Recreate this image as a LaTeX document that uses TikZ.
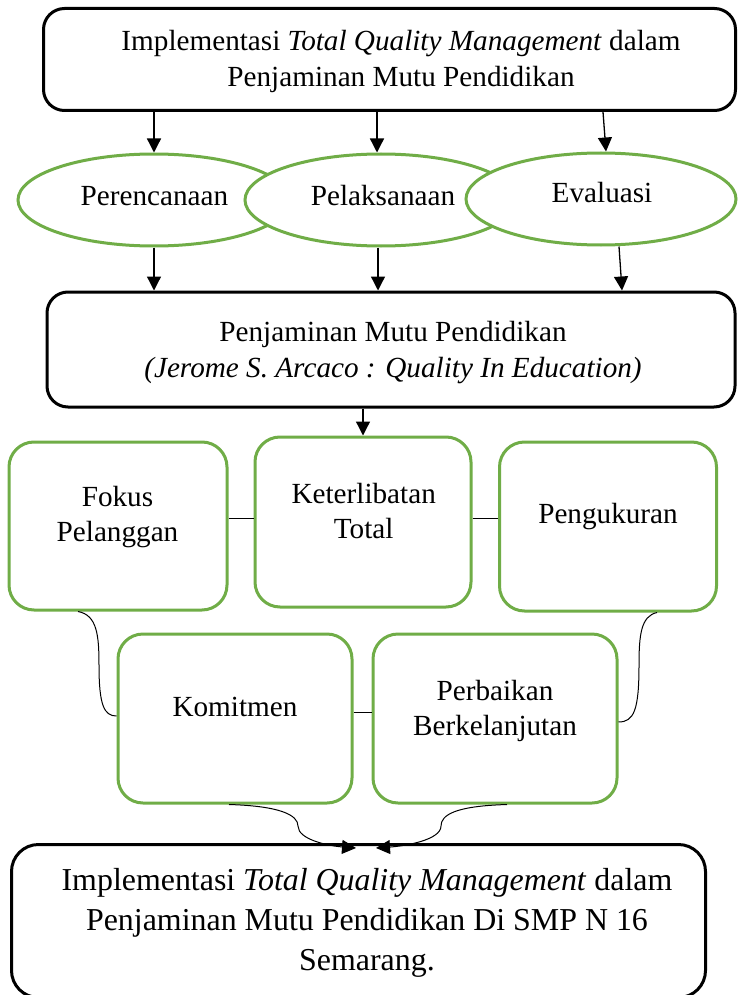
\documentclass[tikz,border=0pt]{standalone}
\usepackage{fontspec}
\setmainfont{Liberation Serif}
\usetikzlibrary{shapes.geometric,arrows.meta}
\definecolor{hijau}{RGB}{112,173,71}
\tikzset{every picture/.style={line width=1pt},
  kotak/.style={draw=black, line width=3pt, rounded corners=21pt, inner sep=0pt},
  kotakhijau/.style={draw=hijau, line width=3pt, rounded corners=25pt, inner sep=0pt, fill=white},
  elips/.style={ellipse, draw=hijau, line width=3pt, fill=white, inner sep=0pt, minimum height=92pt},
  tulisan/.style={font=\fontsize{29.2}{35}\selectfont, align=center, inner sep=0pt, anchor=base},
  panah/.style={-{Triangle[length=14pt,width=14pt]}, line width=1.3pt},
  garis/.style={line width=1pt}}

\begin{document}
\begin{tikzpicture}[x=1pt,y=1pt,yscale=-1,xscale=1]
\useasboundingbox (0,0) rectangle (737,995);

% kotak atas
\node[kotak, minimum width=692pt, minimum height=102pt] (tqm) at (389.5,59.5) {};
\node[tulisan, font=\fontsize{29.2}{36}\selectfont] (tqmteks) at (401,86.7) {Implementasi \textit{Total Quality Management} dalam\\Penjaminan Mutu Pendidikan};

% tiga elips
\node[elips, minimum width=272pt] (per) at (154,200) {};
\node[elips, minimum width=272pt] (pel) at (381,200) {};
\node[elips, minimum width=270pt] (eva) at (601,199) {};
\node[tulisan] (perteks) at (154.4,205) {Perencanaan};
\node[tulisan] (pelteks) at (383,205) {Pelaksanaan};
\node[tulisan] (evateks) at (602,202) {Evaluasi};

\draw[panah] (tqm.south -| per) -- (per.north);
\draw[panah] ([xshift=-4pt]tqm.south -| pel) -- ([xshift=-4pt]pel.north);
\draw[panah] ([xshift=2pt]tqm.south -| eva) -- ([xshift=5pt]eva.north);

% kotak tengah
\node[kotak, minimum width=688pt, minimum height=115pt] (pmp) at (391,349.5) {};
\node[tulisan, font=\fontsize{29.2}{36}\selectfont] (pmpteks) at (393,377) {Penjaminan Mutu Pendidikan\\\textit{(Jerome S. Arcaco : Quality In Education)}};

\draw[panah] (per.south) -- (per.south |- pmp.north);
\draw[panah] ([xshift=-3pt]pel.south) -- ([xshift=-3pt]pel.south |- pmp.north);
\draw[panah] ([xshift=18pt]eva.south) -- ([xshift=21pt]eva.south |- pmp.north);

% prinsip TQM
\node[kotakhijau, minimum width=218pt, minimum height=168pt] (fokus) at (118,526) {};
\node[kotakhijau, minimum width=216pt, minimum height=170pt] (ket) at (363,522) {};
\node[kotakhijau, minimum width=217pt, minimum height=169pt] (peng) at (608,526.5) {};
\node[kotakhijau, minimum width=234pt, minimum height=169pt] (kom) at (235,718.5) {};
\node[kotakhijau, minimum width=244pt, minimum height=169pt] (perb) at (495,718.5) {};

\node[tulisan] (fokusteks) at (117.5,541) {Fokus\\Pelanggan};
\node[tulisan] (ketteks) at (363.7,538) {Keterlibatan\\Total};
\node[tulisan] (pengteks) at (608,523) {Pengukuran};
\node[tulisan] (komteks) at (235,716) {Komitmen};
\node[tulisan] (perbteks) at (495,735) {Perbaikan\\Berkelanjutan};

\draw[panah] (pmp.south -| ket) -- (ket.north);

\coordinate (r1) at (0,518);
\coordinate (r2) at (0,712);
\draw[garis] (fokus.east |- r1) -- (ket.west |- r1);
\draw[garis] (ket.east |- r1) -- (peng.west |- r1);
\draw[garis] (kom.east |- r2) -- (perb.west |- r2);

\draw[garis] ([xshift=-40pt]fokus.south) .. controls (97,615) and (99,635) .. (99,665)
  .. controls (99,705) and (104,716) .. (kom.west |- 0,716);
\draw[garis] ([xshift=49pt]peng.south) .. controls (641,616) and (639,635) .. (639,665)
  .. controls (639,710) and (634,722) .. (perb.east |- 0,722);

% kotak bawah
\node[kotak, rounded corners=27pt, minimum width=694pt, minimum height=153pt] (hasil) at (358.5,921) {};
\node[tulisan, font=\fontsize{31.9}{40}\selectfont] (hasilteks) at (367,970) {Implementasi \textit{Total Quality Management} dalam\\Penjaminan Mutu Pendidikan Di SMP N 16\\Semarang.};

\coordinate (m1) at (356,848);
\coordinate (m2) at (376,848);
\draw[panah, line width=1pt] ([xshift=-6pt]kom.south) .. controls (280,806) and (298,815) .. (298,826)
  .. controls (298,840) and (330,846) .. (m1);
\draw[panah, line width=1pt] ([xshift=12pt]perb.south) .. controls (455,806) and (441,815) .. (441,826)
  .. controls (441,840) and (405,846) .. (m2);

\end{tikzpicture}
\end{document}
